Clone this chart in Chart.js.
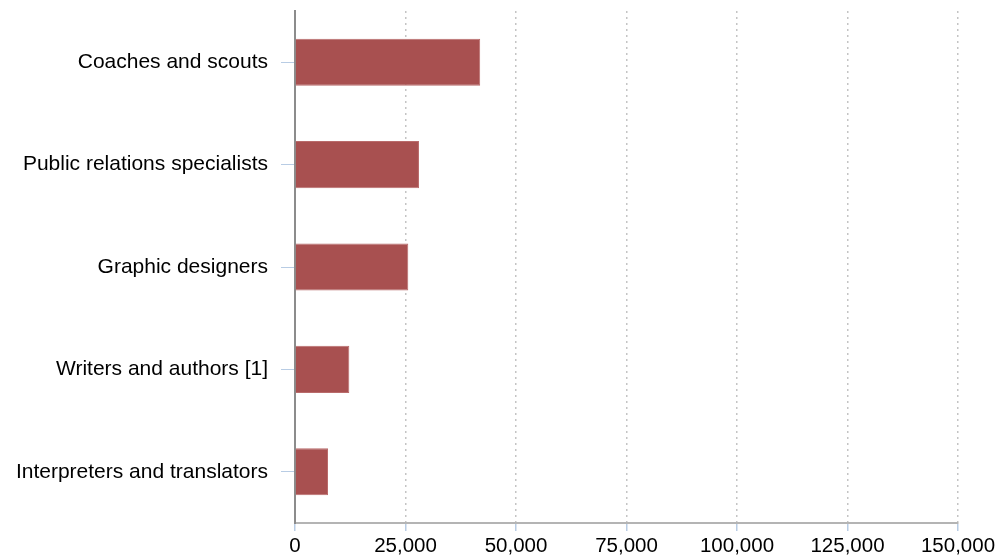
<!DOCTYPE html>
<html>
<head>
<meta charset="utf-8">
<script src="https://cdn.jsdelivr.net/npm/chart.js@4"></script>
<style>
  html, body { margin: 0; padding: 0; background: #fff; }
</style>
</head>
<body>
<canvas id="chart" width="1000" height="557"></canvas>
<script>
const occupations = [
  'Coaches and scouts',
  'Public relations specialists',
  'Graphic designers',
  'Writers and authors [1]',
  'Interpreters and translators',
];
const jobs = [41900, 28050, 25630, 12290, 7470];
const xTicks = [0, 25000, 50000, 75000, 100000, 125000, 150000];

const ctx = document.getElementById('chart').getContext('2d');

new Chart(ctx, {
  type: 'bar',
  data: {
    labels: occupations,
    datasets: [
      {
        label: 'Jobs',
        data: jobs,
        backgroundColor: '#a85050',
        borderColor: '#b96b6b',
        borderWidth: 1,
        categoryPercentage: 1,
        barPercentage: 0.46,
      },
    ],
  },
  options: {
    indexAxis: 'y',
    responsive: false,
    animation: false,
    layout: {
      padding: { top: 11, right: 42, left: 0, bottom: 0 },
    },
    plugins: {
      legend: { display: false },
      tooltip: { enabled: false },
    },
    scales: {
      x: {
        min: xTicks[0],
        max: xTicks[xTicks.length - 1],
        afterBuildTicks: (scale) => {
          scale.ticks = xTicks.map((v) => ({ value: v }));
        },
        afterFit: (scale) => {
          scale.height = 34;
          scale.paddingLeft = 0;
          scale.paddingRight = 0;
        },
        grid: {
          color: '#c4c4c4',
          lineWidth: 1.5,
          tickColor: '#b8cce4',
          tickLength: 8,
          tickBorderDash: [],
        },
        border: { color: '#b4b4b4', width: 2, dash: [2, 4] },
        ticks: {
          color: '#000',
          padding: 3,
          font: { family: 'Liberation Sans, Arial, sans-serif', size: 20.5 },
          callback: (v) => v.toLocaleString('en-US'),
        },
      },
      y: {
        afterFit: (scale) => {
          scale.width = 295;
          scale.paddingTop = 0;
          scale.paddingBottom = 0;
        },
        border: { color: '#8c8c8c', width: 2 },
        grid: {
          offset: false,
          drawOnChartArea: false,
          tickColor: '#b8cce4',
          tickLength: 14,
        },
        ticks: {
          color: '#000',
          padding: 13,
          font: { family: 'Liberation Sans, Arial, sans-serif', size: 21 },
        },
      },
    },
  },
});
</script>
</body>
</html>
